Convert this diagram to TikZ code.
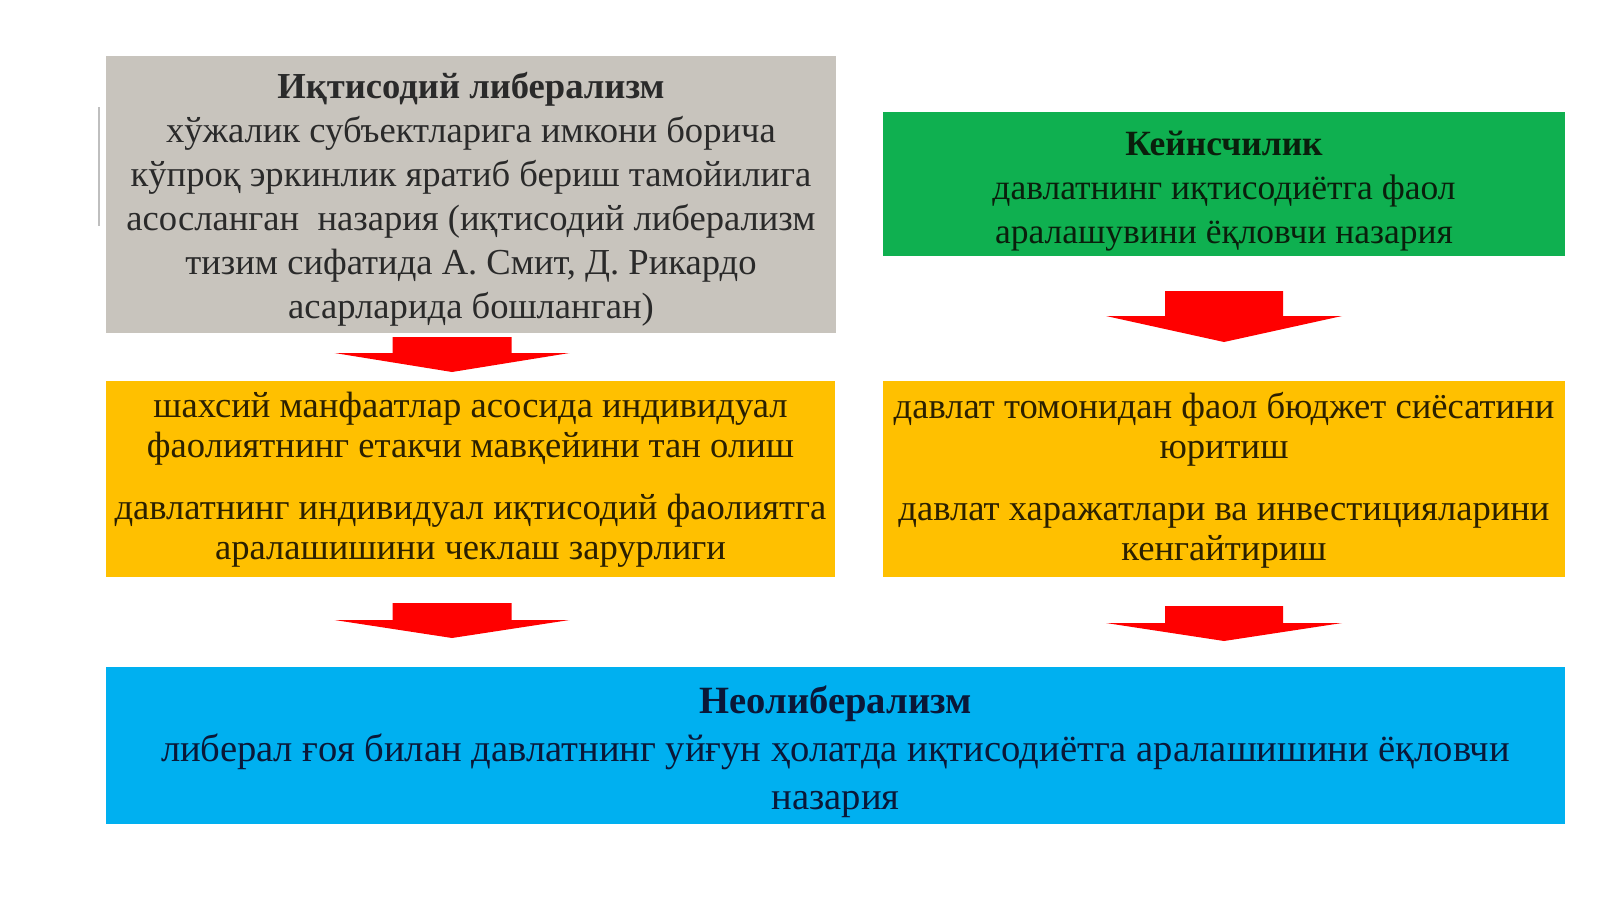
\documentclass[tikz,border=0pt]{standalone}
\usepackage{fontspec}
\setmainfont{Liberation Serif}
\definecolor{greybox}{HTML}{C8C4BD}
\definecolor{greenbox}{HTML}{0FB050}
\definecolor{orangebox}{HTML}{FFC000}
\definecolor{bluebox}{HTML}{00B0F0}
\definecolor{arrred}{HTML}{FF0000}
\definecolor{txtgrey}{HTML}{2A2A2A}
\definecolor{txtgreen}{HTML}{0A1F0C}
\definecolor{txtorange}{HTML}{2B2000}
\definecolor{txtblue}{HTML}{0A1838}
\begin{document}
\begin{tikzpicture}[x=1pt,y=-1pt,
  box/.style={inner sep=0pt, outer sep=0pt, draw=none},
  txt/.style={inner sep=0pt, outer sep=0pt, align=center},
  arr/.style={fill=arrred, draw=none}]
\useasboundingbox (0,0) rectangle (1600,899);
\fill[white] (0,0) rectangle (1600,899);
% faint vertical line left of the grey box
\coordinate (lt) at (99,107);
\coordinate (lb) at (99,226);
\draw[line width=1.2pt, color=black!25] (lt) -- (lb);
% boxes
\node[box, fill=greybox, minimum width=730pt, minimum height=277pt] (libbox) at (471,194.5) {};
\node[txt, text=txtgrey, font=\fontsize{36.6}{44}\selectfont, yshift=-5pt] (lib) at (libbox.center)
  {\textbf{Иқтисодий либерализм}\\
   хўжалик субъектларига имкони борича\\
   кўпроқ эркинлик яратиб бериш тамойилига\\
   асосланган\ \ назария (иқтисодий либерализм\\
   тизим сифатида А. Смит, Д. Рикардо\\
   асарларида бошланган)};
\node[box, fill=greenbox, minimum width=682pt, minimum height=144pt] (keybox) at (1224,184) {};
\node[txt, text=txtgreen, font=\fontsize{35.5}{44}\selectfont, yshift=-7pt] (key) at (keybox.center)
  {\textbf{Кейнсчилик}\\
   давлатнинг иқтисодиётга фаол\\
   аралашувини ёқловчи назария};
\node[box, fill=orangebox, minimum width=729pt, minimum height=196pt] (olbox) at (470.5,479) {};
\node[txt, text=txtorange, font=\fontsize{36.6}{40}\selectfont, yshift=-1pt] (ol) at (olbox.center)
  {шахсий манфаатлар асосида индивидуал\\
   фаолиятнинг етакчи мавқейини тан олиш\\[22pt]
   давлатнинг индивидуал иқтисодий фаолиятга\\
   аралашишини чеклаш зарурлиги};
\node[box, fill=orangebox, minimum width=682pt, minimum height=196pt] (orbox) at (1224,479) {};
\node[txt, text=txtorange, font=\fontsize{36.6}{40}\selectfont, yshift=-1pt] (or) at (orbox.center)
  {давлат томонидан фаол бюджет сиёсатини\\
   юритиш\\[22pt]
   давлат харажатлари ва инвестицияларини\\
   кенгайтириш};
\node[box, fill=bluebox, minimum width=1459pt, minimum height=157pt] (neobox) at (835.5,745.5) {};
\node[txt, text=txtblue, font=\fontsize{38.6}{48}\selectfont, yshift=-6pt] (neo) at (neobox.center)
  {\textbf{Неолиберализм}\\
   либерал ғоя билан давлатнинг уйғун ҳолатда иқтисодиётга аралашишини ёқловчи\\
   назария};
% block arrows
\coordinate (a1) at (452,337);
\fill[arr] (a1) ++(-59.5,0) -- ++(119,0) -- ++(0,16) -- ++(58,0) -- (452,372) -- (334.5,353) -- (392.5,353) -- cycle;
\coordinate (a2) at (1224,291);
\fill[arr] (a2) ++(-59,0) -- ++(118,0) -- ++(0,25) -- ++(59,0) -- (1224,342) -- (1106,316) -- (1165,316) -- cycle;
\coordinate (a3) at (452,603);
\fill[arr] (a3) ++(-59.5,0) -- ++(119,0) -- ++(0,17) -- ++(58,0) -- (452,638) -- (334.5,620) -- (392.5,620) -- cycle;
\coordinate (a4) at (1224,606);
\fill[arr] (a4) ++(-59,0) -- ++(118,0) -- ++(0,17) -- ++(59,0) -- (1224,641) -- (1106,623) -- (1165,623) -- cycle;
\end{tikzpicture}
\end{document}
